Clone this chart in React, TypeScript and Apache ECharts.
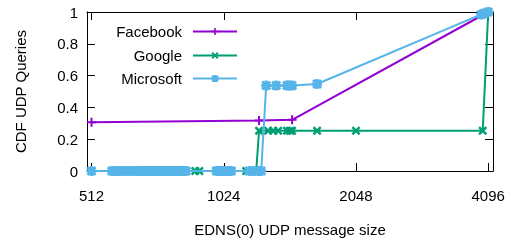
import React, { useEffect, useRef } from "react";
import * as echarts from "echarts";

const seriesNames = ["Facebook", "Google", "Microsoft"];
const xTickLabels = [512, 1024, 2048, 4096];

const facebookX = [512, 1232, 1465, 4096];
const facebookY = [0.307, 0.318, 0.322, 1];

const googleX = [
  570, 580, 590, 600, 610, 620, 630, 640, 650, 660, 670, 680, 690, 700, 710,
  720, 730, 740, 750, 760, 770, 780, 790, 800, 810, 820, 830, 840, 882, 901,
  985, 1000, 1010, 1024, 1040, 1050, 1065, 1152, 1182, 1200, 1214,
  1232, 1292, 1327, 1362, 1427, 1450, 1465, 1670, 2048, 3980, 4096,
];
const googleY = [
  0, 0, 0, 0, 0, 0, 0, 0, 0, 0, 0, 0, 0, 0, 0,
  0, 0, 0, 0, 0, 0, 0, 0, 0, 0, 0, 0, 0, 0, 0,
  0, 0, 0, 0, 0, 0, 0, 0, 0, 0, 0,
  0.253, 0.253, 0.253, 0.253, 0.253, 0.253, 0.253, 0.253, 0.253, 0.253, 1,
];

const microsoftX = [
  512, 570, 580, 590, 600, 610, 620, 630, 640, 650, 660, 670, 680, 690, 700,
  710, 720, 730, 740, 750, 760, 770, 780, 790, 800, 810, 820, 830, 840,
  985, 1000, 1010, 1024, 1040, 1050, 1065, 1170, 1200, 1230, 1246,
  1279, 1348, 1427, 1442, 1465, 1670, 3950, 4000, 4096,
];
const microsoftY = [
  0, 0, 0, 0, 0, 0, 0, 0, 0, 0, 0, 0, 0, 0, 0,
  0, 0, 0, 0, 0, 0, 0, 0, 0, 0, 0, 0, 0, 0,
  0, 0, 0, 0, 0, 0, 0, 0, 0, 0, 0,
  0.537, 0.537, 0.537, 0.537, 0.537, 0.547, 0.985, 0.99, 1,
];

const colors = ["#9400D3", "#009E73", "#56B4E9"];

const PLUS = "path://M3.9,0H6.1V3.9H10V6.1H6.1V10H3.9V6.1H0V3.9H3.9Z";
const CROSS =
  "path://M0,1.9L1.9,0L5,3.1L8.1,0L10,1.9L6.9,5L10,8.1L8.1,10L5,6.9L1.9,10L0,8.1L3.1,5Z";
const STAR =
  "path://M3.4,0H6.6V3.4H10V6.6H6.6V10H3.4V6.6H0V3.4H3.4Z M0,2L2,0L5,3L8,0L10,2L7,5L10,8L8,10L5,7L2,10L0,8L3,5Z";

const FONT = "'Liberation Sans', Arial, Helvetica, sans-serif";

function zip(xs: number[], ys: number[]) {
  return xs.map((x, i) => [x, ys[i]]);
}

export default function App() {
  const ref = useRef<HTMLDivElement>(null);
  useEffect(() => {
    document.body.style.margin = "0";
    const chart = echarts.init(ref.current!, null, { renderer: "svg" });
    const datas = [
      zip(facebookX, facebookY),
      zip(googleX, googleY),
      zip(microsoftX, microsoftY),
    ];
    const symbols = [PLUS, CROSS, STAR];
    const sizes = [9, 9, 10];
    const legendTops = [24, 48, 71];
    const axisCommon = {
      axisLine: { show: true, onZero: false, lineStyle: { color: "#000", width: 1 } },
      axisTick: { show: true, inside: true, length: 8, lineStyle: { color: "#000", width: 1 } },
      splitLine: { show: false },
    };
    chart.setOption({
      animation: false,
      grid: { left: 87, right: 20, top: 12, bottom: 69, containLabel: false },
      legend: seriesNames.map((n, i) => ({
        data: [n],
        align: "right",
        right: 275,
        top: legendTops[i],
        padding: 0,
        itemWidth: 44,
        itemHeight: 9,
        textStyle: {
          fontSize: 15,
          fontFamily: FONT,
          color: "#000",
          padding: [0, 6, 0, 0],
        },
      })),
      xAxis: [
        {
          type: "log",
          logBase: 2,
          min: 500,
          max: 4200,
          position: "bottom",
          ...axisCommon,
          name: "EDNS(0) UDP message size",
          nameLocation: "middle",
          nameGap: 51,
          nameTextStyle: { fontSize: 15, fontFamily: FONT, color: "#000" },
          axisLabel: {
            showMinLabel: false,
            showMaxLabel: false,
            margin: 17,
            fontSize: 15,
            fontFamily: FONT,
            color: "#000",
            formatter: (v: number) => {
              const r = Math.round(v);
              return xTickLabels.includes(r) ? String(r) : "";
            },
          },
        },
        {
          type: "log",
          logBase: 2,
          min: 500,
          max: 4200,
          position: "top",
          ...axisCommon,
          axisLabel: { show: false },
        },
      ],
      yAxis: [
        {
          type: "value",
          min: 0,
          max: 1,
          interval: 0.2,
          position: "left",
          ...axisCommon,
          name: "CDF UDP Queries",
          nameLocation: "middle",
          nameGap: 59,
          nameTextStyle: { fontSize: 15, fontFamily: FONT, color: "#000" },
          axisLabel: { margin: 9, fontSize: 15, fontFamily: FONT, color: "#000" },
        },
        {
          type: "value",
          min: 0,
          max: 1,
          interval: 0.2,
          position: "right",
          ...axisCommon,
          axisLabel: { show: false },
        },
      ],
      series: seriesNames.map((n, i) => ({
        name: n,
        type: "line",
        data: datas[i],
        symbol: symbols[i],
        symbolSize: sizes[i],
        showSymbol: true,
        showAllSymbol: true,
        lineStyle: { color: colors[i], width: 2 },
        itemStyle: { color: colors[i] },
        z: 2 + i,
      })),
    });
    return () => chart.dispose();
  }, []);
  return (
    <div
      ref={ref}
      style={{ position: "fixed", left: 0, top: 0, width: 513, height: 242 }}
    />
  );
}
